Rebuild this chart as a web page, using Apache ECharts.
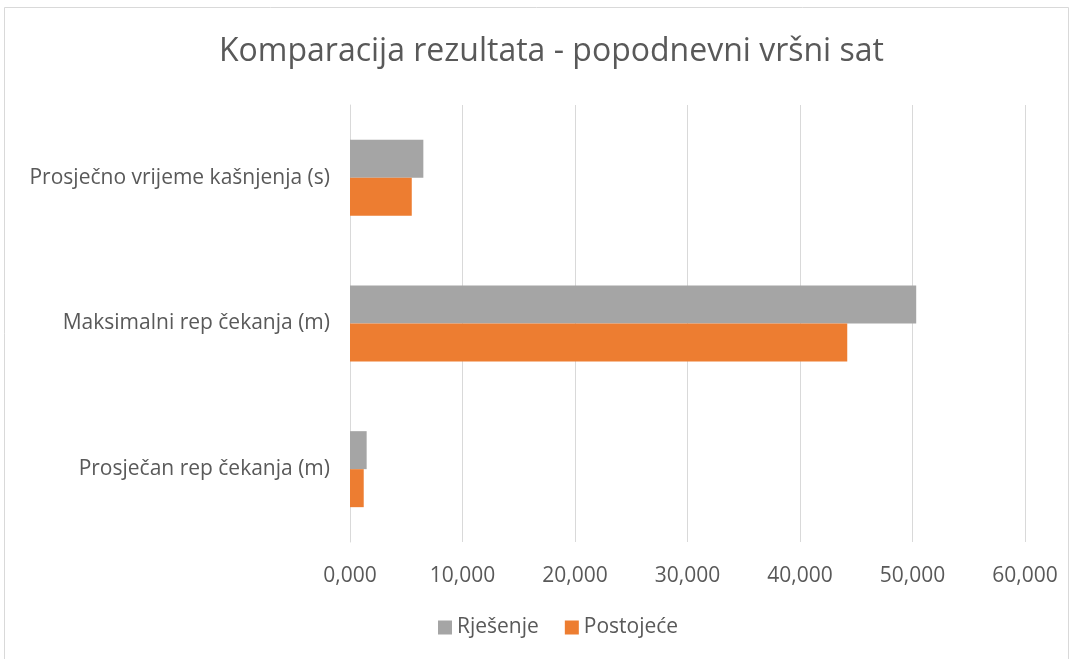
<!DOCTYPE html>
<html>
<head>
<meta charset="utf-8">
<script src="https://cdn.jsdelivr.net/npm/echarts@6/dist/echarts.min.js"></script>
<style>
  html, body { margin: 0; padding: 0; background: #fff; }
  #chart { width: 1076px; height: 659px; }
</style>
</head>
<body>
<div id="chart"></div>
<script>
// kategorije (odozdo prema gore)
const categories = [
    'Prosječan rep čekanja (m)',
    'Maksimalni rep čekanja (m)',
    'Prosječno vrijeme kašnjenja (s)'
];
const rjesenje = [1.48, 50.33, 6.52];
const postojece = [1.22, 44.2, 5.49];
const xTicks = [0, 10, 20, 30, 40, 50, 60];

const font = 'Open Sans';
const chart = echarts.init(document.getElementById('chart'));

chart.setOption({
    backgroundColor: '#fff',
    textStyle: { fontFamily: font },
    title: {
        text: 'Komparacija rezultata - popodnevni vršni sat',
        left: 214,
        top: 31,
        textStyle: { fontFamily: font, fontSize: 32, fontWeight: 'normal', color: '#595959' }
    },
    legend: {
        data: ['Rješenje', 'Postojeće'],
        bottom: 16,
        left: 433,
        icon: 'rect',
        itemWidth: 14,
        itemHeight: 14,
        itemGap: 26,
        textStyle: { fontSize: 21, color: '#595959' }
    },
    graphic: [{
        type: 'rect',
        shape: { x: 4.5, y: 7.5, width: 1064, height: 660 },
        style: { fill: 'none', stroke: '#d9d9d9', lineWidth: 1 },
        silent: true
    }],
    grid: { left: 350, right: 51, top: 105, bottom: 117 },
    xAxis: {
        type: 'value',
        min: xTicks[0],
        max: xTicks[xTicks.length - 1],
        interval: 10,
        axisLine: { show: false },
        axisTick: { show: false },
        splitLine: { lineStyle: { color: '#d9d9d9', width: 1 } },
        axisLabel: {
            fontSize: 21,
            color: '#595959',
            margin: 24,
            formatter: v => v.toFixed(0) + ',000'
        }
    },
    yAxis: {
        type: 'category',
        data: categories,
        axisLine: { lineStyle: { color: '#d9d9d9' } },
        axisTick: { show: false },
        axisLabel: { fontSize: 21, color: '#595959', margin: 20 }
    },
    series: [
        {
            name: 'Rješenje',
            type: 'bar',
            data: rjesenje,
            barWidth: 38,
            barGap: '0%',
            itemStyle: { color: '#a5a5a5' }
        },
        {
            name: 'Postojeće',
            type: 'bar',
            data: postojece,
            barWidth: 38,
            barGap: '0%',
            itemStyle: { color: '#ed7d31' }
        }
    ]
});
</script>
</body>
</html>
